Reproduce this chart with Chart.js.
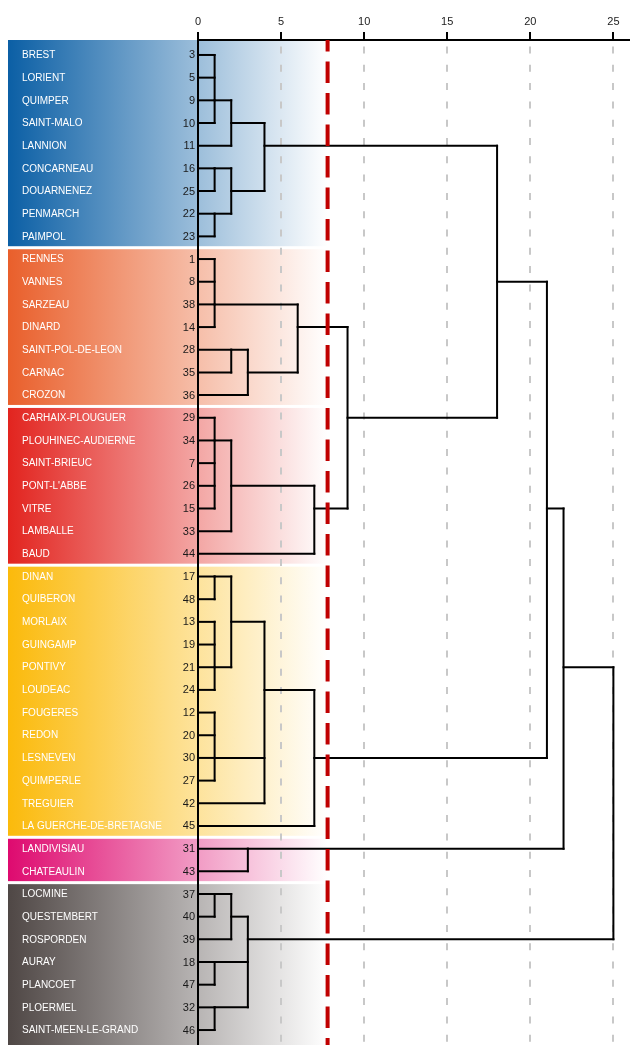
<!DOCTYPE html>
<html>
<head>
<meta charset="utf-8">
<script src="https://cdn.jsdelivr.net/npm/chart.js@4.4.1/dist/chart.umd.min.js"></script>
<style>
html,body{margin:0;padding:0;background:#fff;}
canvas{display:block;}
</style>
</head>
<body>
<canvas id="c" width="630" height="1045"></canvas>
<script>
// ---- data ----
const names = [
  'BREST','LORIENT','QUIMPER','SAINT-MALO','LANNION','CONCARNEAU','DOUARNENEZ','PENMARCH','PAIMPOL',
  'RENNES','VANNES','SARZEAU','DINARD','SAINT-POL-DE-LEON','CARNAC','CROZON',
  'CARHAIX-PLOUGUER','PLOUHINEC-AUDIERNE','SAINT-BRIEUC',"PONT-L'ABBE",'VITRE','LAMBALLE','BAUD',
  'DINAN','QUIBERON','MORLAIX','GUINGAMP','PONTIVY','LOUDEAC','FOUGERES','REDON','LESNEVEN','QUIMPERLE','TREGUIER','LA GUERCHE-DE-BRETAGNE',
  'LANDIVISIAU','CHATEAULIN',
  'LOCMINE','QUESTEMBERT','ROSPORDEN','AURAY','PLANCOET','PLOERMEL','SAINT-MEEN-LE-GRAND'
];
const codes = [3,5,9,10,11,16,25,22,23, 1,8,38,14,28,35,36, 29,34,7,26,15,33,44,
  17,48,13,19,21,24,12,20,30,27,42,45, 31,43, 37,40,39,18,47,32,46];
const groupSizes = [9,7,7,12,2,7];
const groupColors = ['#0b5fa5','#e95f2b','#e2241f','#fbba0b','#de0a6f','#4f4745'];

// merges: children (leaf index 0..43, or 44+k for merge k), height (rescaled distance), row where cluster line leaves
const mergeChildren = [
  [0,1,2,3],[44,4],[5,6],[7,8],[46,47],[45,48],
  [9,10,11,12],[13,14],[51,15],[50,52],
  [16,17,18,19,20],[54,21],[55,22],[53,56],[49,57],
  [23,24],[25,26,27,28],[59,60],[29,30,31,32],[61,62,33],[63,34],[58,64],
  [35,36],[65,66],
  [37,38],[68,39],[40,41],[42,43],[69,70,71],[67,72]
];
const mergeHeights = [1,2,1,1,2,4, 1,2,3,6, 1,2,7,9,18, 1,1,2,1,4,7,21, 3,22, 1,2,1,1,3,25];
const mergeRows    = [2,3,5,7,6,4, 11,13,14,12, 17,19,20,16,10, 23,27,25,31,28,31,20, 35,27, 37,38,40,42,39,33];

const cutLevel = 7.8;
const xTicks = [0,5,10,15,20,25];
const xMax = 26;
const yMin = -0.66, yMax = 43.66;

// ---- build dendrogram segments ----
const nLeaf = names.length;
const nodeH = i => i < nLeaf ? 0 : mergeHeights[i - nLeaf];
const nodeRow = i => i < nLeaf ? i : mergeRows[i - nLeaf];
const segs = [];
mergeChildren.forEach((ch, k) => {
  const h = mergeHeights[k];
  const rows = ch.map(nodeRow);
  ch.forEach(c => segs.push([{x: nodeH(c), y: nodeRow(c)}, {x: h, y: nodeRow(c)}]));
  segs.push([{x: h, y: Math.min(...rows)}, {x: h, y: Math.max(...rows)}]);
});

const datasets = [{
  data: [{x: cutLevel, y: yMin}, {x: cutLevel, y: yMax}],
  showLine: true, borderColor: '#c00000', borderWidth: 4,
  borderDash: [21.5, 10], borderDashOffset: 10,
  pointRadius: 0, order: 0, borderCapStyle: 'butt'
}].concat(segs.map(s => ({
  data: s, showLine: true, borderColor: '#000', borderWidth: 2,
  pointRadius: 0, order: 1, borderCapStyle: 'square'
})));

const bandPlugin = {
  id: 'bands',
  beforeDraw(chart) {
    const {ctx, chartArea, scales: {x, y}} = chart;
    const xL = 8;
    const xR = x.getPixelForValue(cutLevel);
    let start = 0;
    ctx.save();
    groupSizes.forEach((n, g) => {
      const first = start, last = start + n - 1;
      start += n;
      const top = g === 0 ? chartArea.top : y.getPixelForValue(first - 0.5) + 1.5;
      const bot = g === groupSizes.length - 1 ? chartArea.bottom : y.getPixelForValue(last + 0.5) - 1.5;
      const grad = ctx.createLinearGradient(xL, 0, xR, 0);
      grad.addColorStop(0, groupColors[g]);
      grad.addColorStop(1, '#ffffff');
      ctx.fillStyle = grad;
      ctx.fillRect(xL, top, xR - xL, bot - top);
    });
    ctx.textBaseline = 'middle';
    ctx.font = '10px "Liberation Sans", Arial, sans-serif';
    ctx.fillStyle = '#ffffff';
    ctx.textAlign = 'left';
    names.forEach((nm, i) => ctx.fillText(nm, 22, y.getPixelForValue(i) + 0.5));
    ctx.font = '11px "Liberation Sans", Arial, sans-serif';
    ctx.fillStyle = '#1a1a1a';
    ctx.textAlign = 'right';
    codes.forEach((cd, i) => ctx.fillText(String(cd), 195, y.getPixelForValue(i) + 0.5));
    ctx.restore();
  }
};

Chart.defaults.font.family = '"Liberation Sans", Arial, sans-serif';

new Chart(document.getElementById('c'), {
  type: 'scatter',
  data: { datasets },
  plugins: [bandPlugin],
  options: {
    responsive: false,
    animation: false,
    events: [],
    layout: { padding: 0 },
    plugins: { legend: { display: false }, tooltip: { enabled: false } },
    scales: {
      x: {
        type: 'linear', position: 'top', min: 0, max: xMax,
        afterFit: s => { s.height = 40; },
        afterBuildTicks: s => { s.ticks = xTicks.map(v => ({value: v})); },
        ticks: { font: { size: 11 }, color: '#222', padding: 3, maxRotation: 0, autoSkip: false },
        grid: {
          color: c => (c.tick && c.tick.value === 0) ? 'rgba(0,0,0,0)' : '#c8c8c8',
          lineWidth: 2, tickColor: '#000', tickLength: 8, tickWidth: 2, drawTicks: true
        },
        border: { display: true, color: '#000', width: 2, dash: [7, 11.3], dashOffset: 12.8 }
      },
      y: {
        type: 'linear', reverse: true, min: yMin, max: yMax, position: 'left',
        afterFit: s => { s.width = 198; },
        ticks: { display: false },
        grid: { display: false, drawTicks: false },
        border: { display: true, color: '#000', width: 2 }
      }
    }
  }
});
</script>
</body>
</html>
